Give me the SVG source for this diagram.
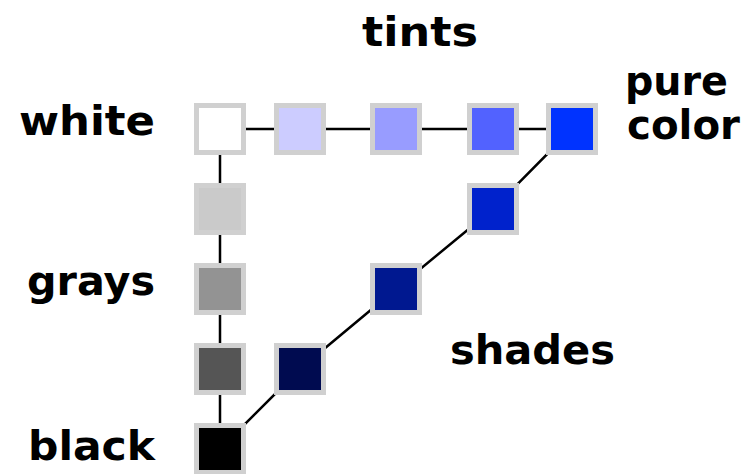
<svg xmlns="http://www.w3.org/2000/svg" width="756" height="474" viewBox="0 0 756 474">
<style>
.sq{stroke:#d0d0d0;stroke-width:5}
.ln{stroke:#000;stroke-width:2.5;fill:none}
.lb{font-family:"DejaVu Sans",sans-serif;font-weight:bold;font-size:40px;fill:#000}
</style>
<rect width="756" height="474" fill="#fff"/>
<g id="connectors">
<line class="ln" x1="220" y1="129" x2="572" y2="129"/>
<line class="ln" x1="220" y1="129" x2="220" y2="449"/>
<polyline class="ln" points="220,449 300,369 396,289 493,209 572,129"/>
</g>
<g id="white"><rect class="sq" x="196.5" y="105.5" width="47" height="47" fill="#ffffff"/></g>
<g id="tint1"><rect class="sq" x="276.5" y="105.5" width="47" height="47" fill="#ccccff"/></g>
<g id="tint2"><rect class="sq" x="372.5" y="105.5" width="47" height="47" fill="#989cff"/></g>
<g id="tint3"><rect class="sq" x="469.5" y="105.5" width="47" height="47" fill="#5262ff"/></g>
<g id="pure"><rect class="sq" x="548.5" y="105.5" width="47" height="47" fill="#0033ff"/></g>
<g id="gray1"><rect class="sq" x="196.5" y="185.5" width="47" height="47" fill="#cacaca"/></g>
<g id="gray2"><rect class="sq" x="196.5" y="265.5" width="47" height="47" fill="#939393"/></g>
<g id="gray3"><rect class="sq" x="196.5" y="345.5" width="47" height="47" fill="#555555"/></g>
<g id="black"><rect class="sq" x="196.5" y="425.5" width="47" height="47" fill="#000000"/></g>
<g id="shade1"><rect class="sq" x="469.5" y="185.5" width="47" height="47" fill="#0022cc"/></g>
<g id="shade2"><rect class="sq" x="372.5" y="265.5" width="47" height="47" fill="#001890"/></g>
<g id="shade3"><rect class="sq" x="276.5" y="345.5" width="47" height="47" fill="#000b50"/></g>
<g id="labels">
<text class="lb" x="362" y="46" textLength="116" lengthAdjust="spacingAndGlyphs">tints</text>
<text class="lb" x="19" y="135" textLength="136" lengthAdjust="spacingAndGlyphs">white</text>
<text class="lb" x="27" y="295" textLength="128" lengthAdjust="spacingAndGlyphs">grays</text>
<text class="lb" x="28" y="460" textLength="127" lengthAdjust="spacingAndGlyphs">black</text>
<text class="lb" x="450" y="364" textLength="165" lengthAdjust="spacingAndGlyphs">shades</text>
<text class="lb" x="625" y="95" textLength="103" lengthAdjust="spacingAndGlyphs">pure</text>
<text class="lb" x="627" y="139" textLength="113" lengthAdjust="spacingAndGlyphs">color</text>
</g>
</svg>
